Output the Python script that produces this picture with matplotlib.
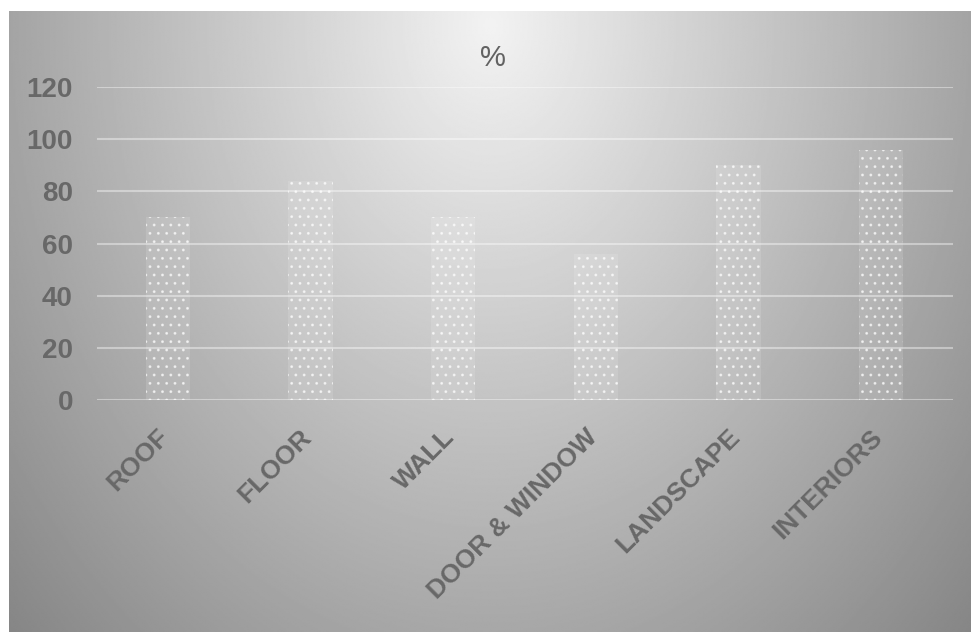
import numpy as np
import matplotlib.pyplot as plt
from matplotlib.transforms import ScaledTranslation

# survey share per building element
categories = ['ROOF', 'FLOOR', 'WALL', 'DOOR & WINDOW', 'LANDSCAPE', 'INTERIORS']
percent = [70, 84, 70, 56, 90, 96]
yticks = [0, 20, 40, 60, 80, 100, 120]

plt.rcParams['font.family'] = ['Liberation Sans', 'DejaVu Sans']
plt.rcParams['hatch.linewidth'] = 0.9
text_col = '#686868'

W, H = 971, 632
fig = plt.figure(figsize=(W / 100, H / 100), dpi=100)
fig.patch.set_facecolor('white')

# ---- radial grey background, light at top centre ----
bg = fig.add_axes([9 / W, 0, (W - 9) / W, (H - 11) / H], zorder=-5)
gx = np.linspace(9, W, 600)
gy = np.linspace(11, H, 400)
X, Y = np.meshgrid(gx, gy)
d = np.sqrt(((X - 490) / 470.0) ** 2 + ((Y - 25) / 620.0) ** 2)
v = np.clip(0.95 - 0.30 * d, 0, 1)
bg.imshow(v, cmap='gray', vmin=0, vmax=1, aspect='auto',
          extent=[0, 1, 0, 1], origin='upper', interpolation='bilinear')
bg.axis('off')

# ---- bar chart ----
ax = fig.add_axes([96.5 / W, (H - 400) / H, (952.5 - 96.5) / W, 313 / H])
ax.patch.set_alpha(0)

x = np.arange(len(categories))
ax.bar(x, percent, width=0.31, color=(1, 1, 1, 0.12),
       edgecolor=(1, 1, 1, 0.6), linewidth=0, hatch='..', zorder=3)

ax.set_xlim(-0.5, len(categories) - 0.5)
ax.set_ylim(0, 120)
ax.set_yticks(yticks)
ax.yaxis.grid(True, color='white', alpha=0.4, linewidth=1.5, zorder=0)
ax.set_axisbelow(True)
for s in ax.spines.values():
    s.set_visible(False)

ax.tick_params(axis='y', length=0, pad=17, labelsize=20, labelcolor=text_col)
ax.tick_params(axis='x', length=0, pad=18, labelsize=19, labelcolor=text_col)
for t in ax.get_yticklabels():
    t.set_fontweight('bold')

ax.set_xticks(x)
ax.set_xticklabels(categories, rotation=45, ha='right', va='top',
                   fontweight='bold')
# nudge the slanted labels a little to the right
shift = ScaledTranslation(6 / 100, 0, fig.dpi_scale_trans)
for t in ax.get_xticklabels():
    t.set_transform(t.get_transform() + shift)

fig.text(493 / W, 1 - 58 / H, '%', ha='center', va='center',
         fontsize=21, color='#626262')

fig.savefig('out.png', dpi=100)
